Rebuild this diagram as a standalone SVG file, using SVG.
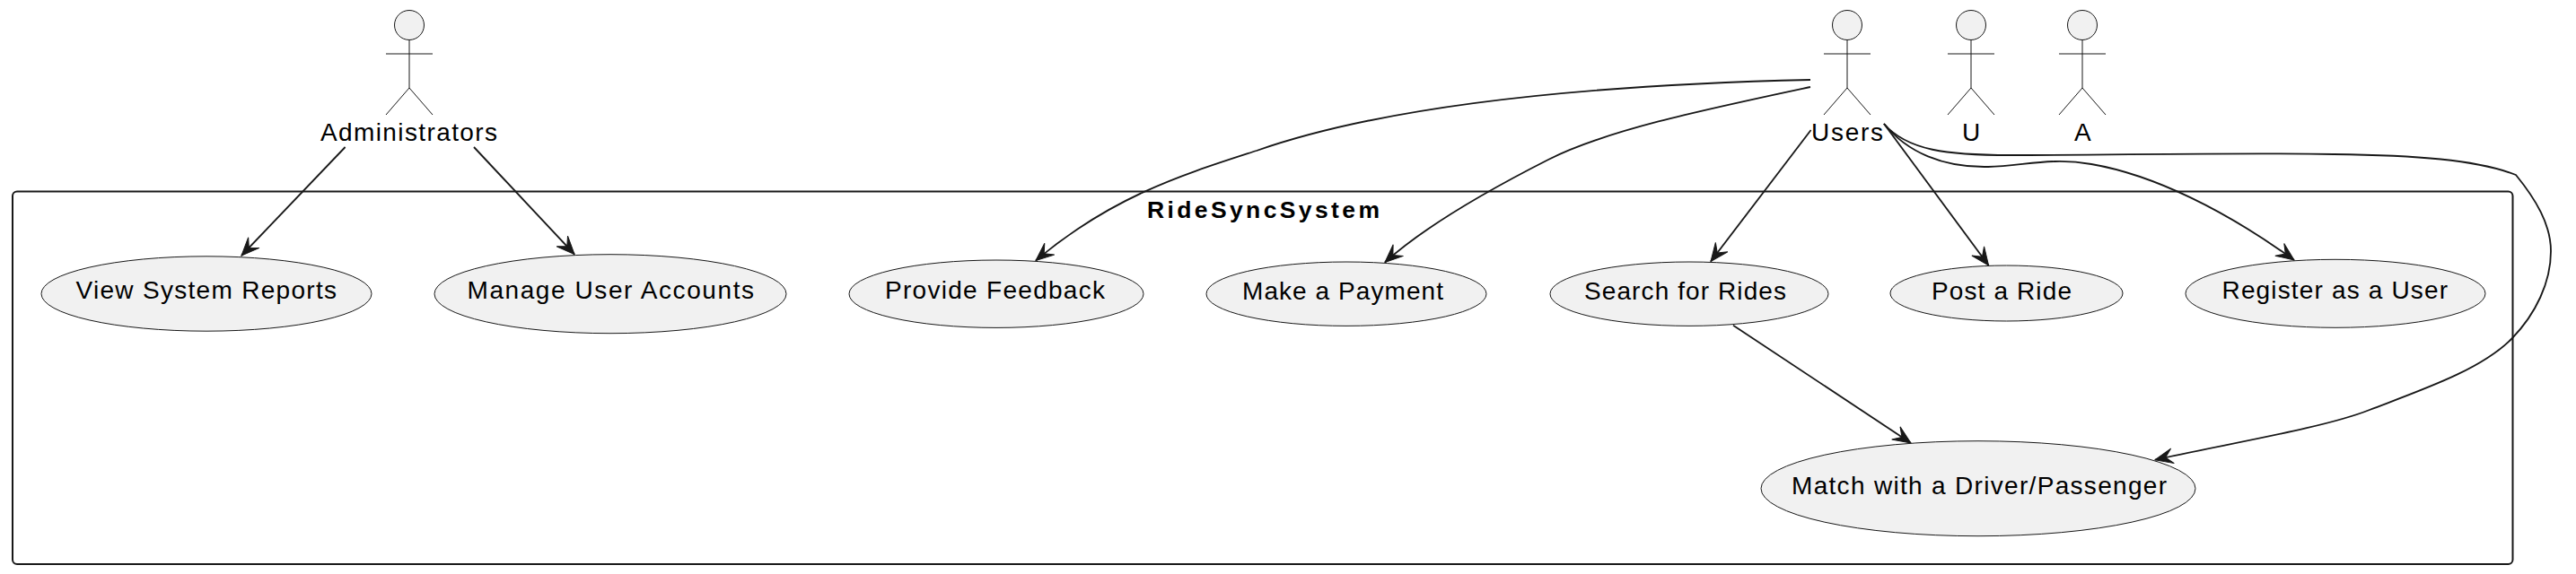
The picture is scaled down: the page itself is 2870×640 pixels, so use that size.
<svg xmlns="http://www.w3.org/2000/svg" width="2870" height="640" viewBox="0 0 2870 640">
<style>
text{font-family:"Liberation Sans",Arial,sans-serif;font-size:28px;fill:#000}
.t{font-weight:bold;font-size:26.500px}
.shape{fill:#F1F1F1;stroke:#181818;stroke-width:1}
.line{fill:none;stroke:#181818;stroke-width:1}
.conn{fill:none;stroke:#181818;stroke-width:1.84;marker-end:url(#arrow)}
.frame{fill:none;stroke:#181818;stroke-width:2}
</style>
<defs>
<marker id="arrow" markerUnits="userSpaceOnUse" markerWidth="30" markerHeight="30" viewBox="-25 -15 30 30" refX="0" refY="0" orient="auto">
<polygon points="0,0 -20,-8.500 -12,0 -20,8.500" fill="#181818" stroke="#181818" stroke-width="1"/>
</marker>
<g id="stick">
<ellipse class="shape" cx="0" cy="28" rx="16.500" ry="16.500"/>
<path class="line" d="M0,44.500V98M-26,60H26M0,98L-26,128M0,98L26,128"/>
</g>
</defs>
<rect id="RideSyncSystem" class="frame" x="14" y="213.500" width="2785.500" height="415.500" rx="5" ry="5"/>
<text class="t" x="1278" y="243" textLength="259" lengthAdjust="spacing">RideSyncSystem</text>
<g id="connectors">
<path class="conn" d="M384.600,164L269,285"/>
<path class="conn" d="M528,164L640,283.500"/>
<path class="conn" d="M2017,89C1800,94 1560,112 1400,168C1320,194 1240,218 1154,290.500"/>
<path class="conn" d="M2017,97C1900,122 1790,145 1725,178C1665,208.500 1590,250 1543,292.500"/>
<path class="conn" d="M2017.600,145L1906,291.500"/>
<path class="conn" d="M2099,138L2215.600,296"/>
<path class="conn" d="M2099,138C2125,170 2165,187 2215,186C2255,185 2285,175 2330,183C2400,195 2480,235 2556,290"/>
<path class="conn" d="M2099,138C2125,168 2170,173 2240,173C2350,173 2500,170 2600,172C2690,173 2760,178 2803,195C2825,222 2842,250 2842,280C2842,315 2825,350 2799,377C2765,412 2700,434 2640,457C2590,477 2480,495 2401,512.700"/>
<path class="conn" d="M1931,362.700L2129,494"/>
</g>
<g id="Administrators"><use href="#stick" x="456" y="0"/><text x="357" y="157" textLength="197" lengthAdjust="spacing">Administrators</text></g>
<g id="Users"><use href="#stick" x="2058" y="0"/><text x="2018" y="157" textLength="80" lengthAdjust="spacing">Users</text></g>
<g id="U"><use href="#stick" x="2196" y="0"/><text x="2186" y="157">U</text></g>
<g id="A"><use href="#stick" x="2320" y="0"/><text x="2311" y="157">A</text></g>
<g id="ViewSystemReports"><ellipse class="shape" cx="230" cy="327.500" rx="184" ry="41.700"/><text x="84.500" y="332.500" textLength="290.500" lengthAdjust="spacing">View System Reports</text></g>
<g id="ManageUserAccounts"><ellipse class="shape" cx="680" cy="327.700" rx="196" ry="44"/><text x="520.500" y="332.500" textLength="319.500" lengthAdjust="spacing">Manage User Accounts</text></g>
<g id="ProvideFeedback"><ellipse class="shape" cx="1110" cy="327.700" rx="164" ry="37.700"/><text x="986" y="333" textLength="245" lengthAdjust="spacing">Provide Feedback</text></g>
<g id="MakeAPayment"><ellipse class="shape" cx="1500" cy="327.700" rx="156" ry="35.700"/><text x="1384" y="334" textLength="224" lengthAdjust="spacing">Make a Payment</text></g>
<g id="SearchForRides"><ellipse class="shape" cx="1882" cy="327.700" rx="155" ry="35.700"/><text x="1765" y="334" textLength="225" lengthAdjust="spacing">Search for Rides</text></g>
<g id="PostARide"><ellipse class="shape" cx="2235.500" cy="327" rx="129.500" ry="31"/><text x="2152" y="334" textLength="156" lengthAdjust="spacing">Post a Ride</text></g>
<g id="RegisterAsAUser"><ellipse class="shape" cx="2602" cy="327.300" rx="167" ry="38"/><text x="2475.500" y="333" textLength="251.500" lengthAdjust="spacing">Register as a User</text></g>
<g id="MatchWithADriverPassenger"><ellipse class="shape" cx="2204" cy="544.700" rx="242" ry="53"/><text x="1996" y="550.500" textLength="418" lengthAdjust="spacing">Match with a Driver/Passenger</text></g>
</svg>
